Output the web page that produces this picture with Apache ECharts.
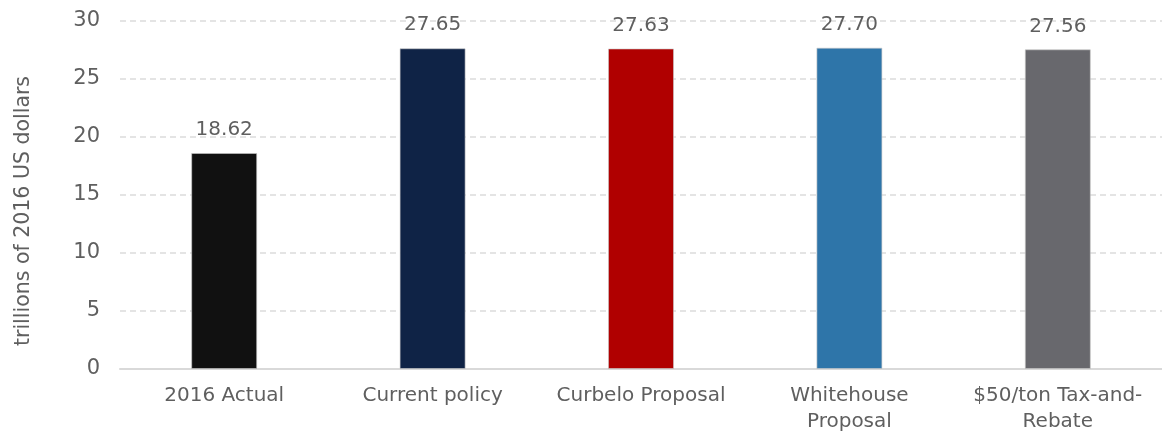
<!DOCTYPE html>
<html>
<head>
<meta charset="utf-8">
<script src="https://cdn.jsdelivr.net/npm/echarts@6/dist/echarts.min.js"></script>
<style>
  html, body { margin: 0; padding: 0; background: #fff; }
  #chart { width: 1162px; height: 435px; }
</style>
</head>
<body>
<div id="chart"></div>
<script>
// categories and values
var categories = ['2016 Actual', 'Current policy', 'Curbelo Proposal', 'Whitehouse\nProposal', '$50/ton Tax-and-\nRebate'];
var values = [18.62, 27.65, 27.63, 27.70, 27.56];
var barColors = ['#111111', '#0f2346', '#b00000', '#2e75a9', '#68686d'];
var yTicks = [0, 5, 10, 15, 20, 25, 30];

var font = 'DejaVu Sans';

var seriesData = values.map(function (v, i) {
  return { value: v, itemStyle: { color: barColors[i] } };
});

var chart = echarts.init(document.getElementById('chart'));
var option = {
  animation: false,
  textStyle: { fontFamily: font },
  grid: { left: 120, top: 21, width: 1047, height: 349 },
  xAxis: {
    type: 'category',
    data: categories,
    axisLine: { lineStyle: { color: '#d9d9d9', width: 2 } },
    axisTick: { show: false },
    axisLabel: { color: '#5f5f5f', fontSize: 20, margin: 14, lineHeight: 26, fontFamily: font, interval: 0 }
  },
  yAxis: {
    type: 'value',
    min: yTicks[0],
    max: yTicks[yTicks.length - 1],
    interval: 5,
    name: 'trillions of 2016 US dollars',
    nameLocation: 'middle',
    nameRotate: 90,
    nameGap: 86,
    nameTextStyle: { color: '#5f5f5f', fontSize: 20.5, fontFamily: font, padding: [0, 32, 0, 0] },
    axisLine: { show: false },
    axisTick: { show: false },
    axisLabel: { color: '#5f5f5f', fontSize: 21, margin: 20, fontFamily: font },
    splitLine: { lineStyle: { color: '#dcdcdc', type: [6, 4], width: 1.5 } }
  },
  series: [{
    type: 'bar',
    data: seriesData,
    barWidth: 66,
    itemStyle: { borderColor: 'rgba(200,200,200,0.6)', borderWidth: 1 },
    label: {
      show: true,
      position: 'top',
      distance: 13,
      color: '#5f5f5f',
      fontSize: 20,
      fontFamily: font,
      formatter: function (p) { return p.value.toFixed(2); }
    }
  }]
};
chart.setOption(option);
</script>
</body>
</html>
